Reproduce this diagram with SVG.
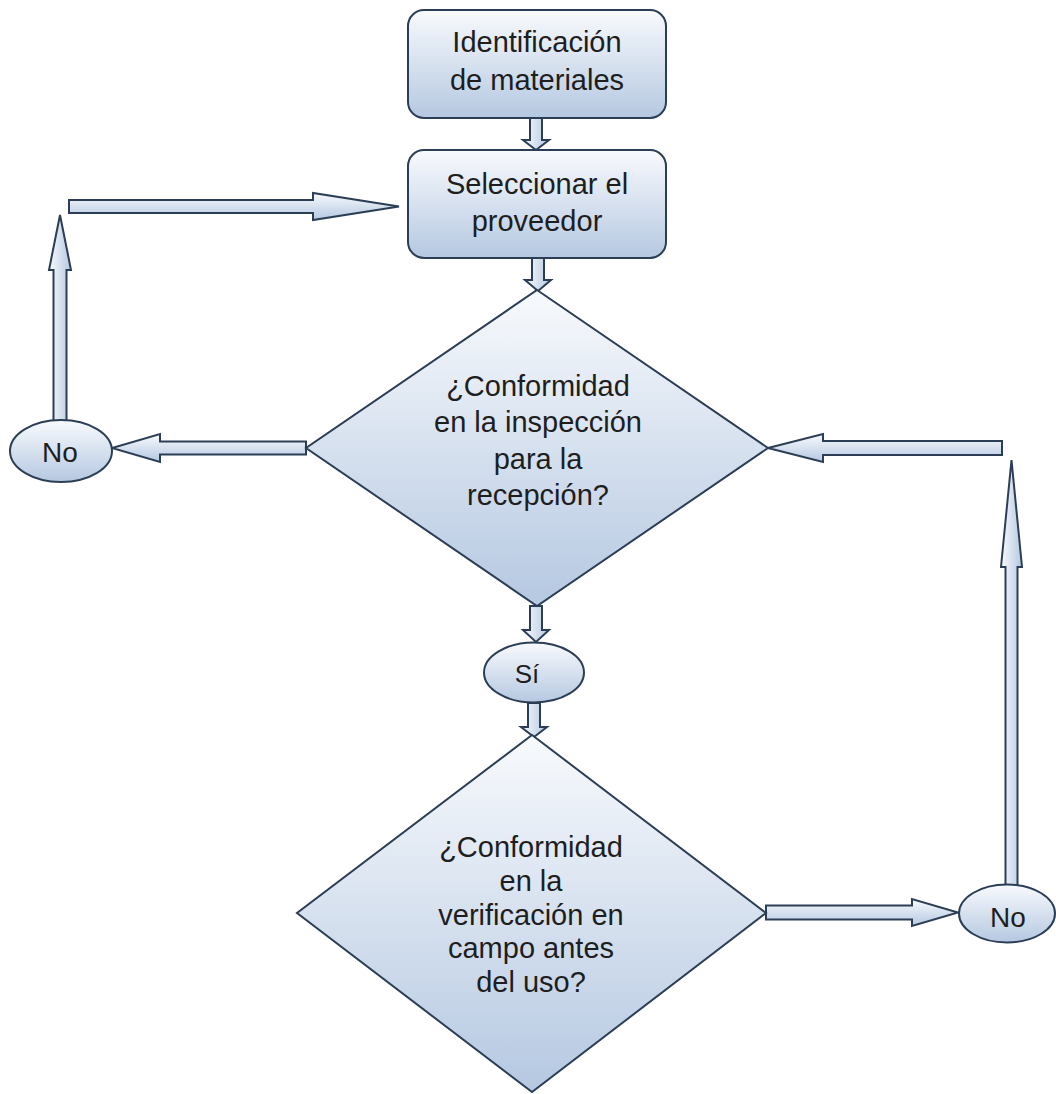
<svg xmlns="http://www.w3.org/2000/svg" width="1056" height="1094" viewBox="0 0 1056 1094">
  <defs>
    <linearGradient id="fillV" x1="0" y1="0" x2="0" y2="1">
      <stop offset="0" stop-color="#f8fafd"/>
      <stop offset="1" stop-color="#b5c8e1"/>
    </linearGradient>
    <linearGradient id="fillH" x1="0" y1="0" x2="1" y2="0">
      <stop offset="0" stop-color="#f8fafd"/>
      <stop offset="1" stop-color="#b5c8e1"/>
    </linearGradient>
    <style>
      .shape { fill: url(#fillV); stroke: #2c3e55; stroke-width: 2; stroke-linejoin: miter; }
      .arrow-h { fill: url(#fillV); stroke: #2c3e55; stroke-width: 2; stroke-linejoin: miter; }
      .arrow-v { fill: url(#fillH); stroke: #2c3e55; stroke-width: 2; stroke-linejoin: miter; }
      .label { font-family: "Liberation Sans", Arial, sans-serif; font-size: 29px; fill: #1e1e1e; text-anchor: middle; }
      .small { font-size: 28px; }
      .si { font-size: 26px; }
    </style>
  </defs>
  <rect width="1056" height="1094" fill="#ffffff"/>

  <!-- connectors: block arrows -->
  <g id="connectors">
    <polygon class="arrow-v" points="530,118 530,140 523,140 536,150 549,140 542,140 542,118"/>
    <polygon class="arrow-v" points="532,258 532,280 525,280 538,291 551,280 544,280 544,258"/>
    <polygon class="arrow-v" points="530,606 530,630 523,630 536,642 549,630 542,630 542,606"/>
    <polygon class="arrow-v" points="528,703 528,727 521,727 534,737 547,727 540,727 540,703"/>
    <polygon class="arrow-h" points="306,441.5 160,441.5 160,434 112,448 160,462 160,454.5 306,454.5"/>
    <polygon class="arrow-v" points="53.5,421 53.5,270 49,270 60,215 71,270 66.5,270 66.5,421"/>
    <polygon class="arrow-h" points="69,200 313,200 313,193 399,206.5 313,220 313,213 69,213"/>
    <polygon class="arrow-h" points="1002,441 823,441 823,434 768,448 823,462 823,455 1002,455"/>
    <polygon class="arrow-v" points="1005.5,886 1005.5,567 1001,567 1011.5,460 1022,567 1017.5,567 1017.5,886"/>
    <polygon class="arrow-h" points="766,905.5 912,905.5 912,899 958,912.5 912,926 912,919.5 766,919.5"/>
  </g>

  <g id="identificacion">
    <rect class="shape" x="408" y="10" width="258" height="108" rx="16"/>
    <text class="label" x="537" y="52">Identificación</text>
    <text class="label" x="537" y="90">de materiales</text>
  </g>

  <g id="seleccionar">
    <rect class="shape" x="408" y="150" width="258" height="108" rx="16"/>
    <text class="label" x="537" y="194">Seleccionar el</text>
    <text class="label" x="537" y="231">proveedor</text>
  </g>

  <g id="inspeccion">
    <polygon class="shape" points="537,290 768,448 537,606 306,448"/>
    <text class="label" x="538" y="396">¿Conformidad</text>
    <text class="label" x="538" y="432">en la inspección</text>
    <text class="label" x="538" y="469">para la</text>
    <text class="label" x="538" y="505">recepción?</text>
  </g>

  <g id="no-inspeccion">
    <ellipse class="shape" cx="61" cy="451" rx="51" ry="31"/>
    <text class="label small" x="60" y="462">No</text>
  </g>

  <g id="si">
    <ellipse class="shape" cx="534" cy="672.5" rx="50" ry="30"/>
    <text class="label si" x="527" y="683">Sí</text>
  </g>

  <g id="verificacion">
    <polygon class="shape" points="532,735 766,913 532,1092 297,913"/>
    <text class="label" x="531" y="857">¿Conformidad</text>
    <text class="label" x="531" y="891">en la</text>
    <text class="label" x="531" y="925">verificación en</text>
    <text class="label" x="531" y="958">campo antes</text>
    <text class="label" x="531" y="992">del uso?</text>
  </g>

  <g id="no-verificacion">
    <ellipse class="shape" cx="1007" cy="913.5" rx="48" ry="29"/>
    <text class="label small" x="1008" y="927">No</text>
  </g>
</svg>
